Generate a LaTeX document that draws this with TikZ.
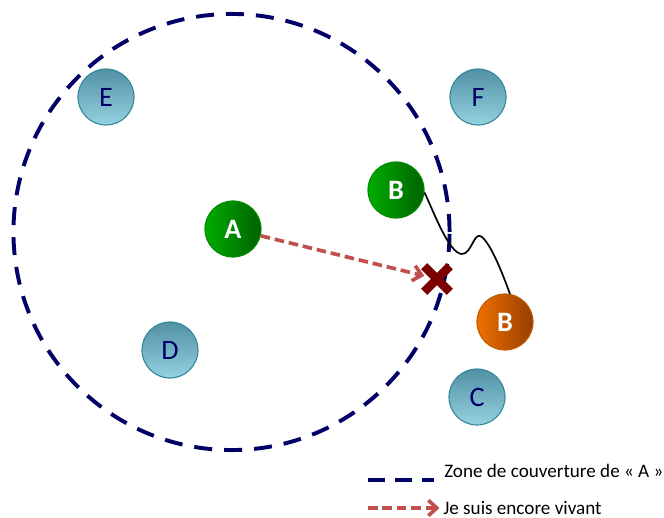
\documentclass[tikz,border=0pt]{standalone}
\usepackage{fontspec}
\setmainfont{Carlito}
\usetikzlibrary{arrows.meta,shapes.misc}

\definecolor{zonenavy}{RGB}{0,0,102}
\definecolor{tealtop}{RGB}{82,145,165}
\definecolor{tealbot}{RGB}{148,210,224}
\definecolor{tealline}{RGB}{55,135,155}
\definecolor{greenleft}{RGB}{0,172,0}
\definecolor{greenright}{RGB}{0,98,0}
\definecolor{orangeleft}{RGB}{238,112,0}
\definecolor{orangeright}{RGB}{150,62,0}
\definecolor{alivered}{RGB}{192,80,77}
\definecolor{crossred}{RGB}{122,0,0}

\begin{document}
\begin{tikzpicture}[
    x=0.025cm, y=-0.025cm,
    every node/.style={font=\fontsize{20}{24}\selectfont},
    station/.style={circle, draw=tealline, thick, top color=tealtop, bottom color=tealbot, minimum size=1.4cm, inner sep=0pt, text=zonenavy},
    mobile/.style={circle, draw=greenleft!80!black, thick, left color=greenleft, right color=greenright, minimum size=1.4cm, inner sep=0pt, text=white, font=\fontsize{20}{24}\selectfont\bfseries},
    moved/.style={mobile, draw=orangeleft!80!black, left color=orangeleft, right color=orangeright},
    zone/.style={circle, draw=zonenavy, line width=2.8pt, dash pattern=on 0.45cm off 0.3cm, minimum size=10.9cm, inner sep=0pt},
    alive/.style={draw=alivered, line width=2.6pt, dash pattern=on 0.24cm off 0.12cm, -{Straight Barb[length=6pt, width=11pt, line width=2.6pt]}},
    lost/.style={cross out, draw=crossred, line width=6.2pt, minimum size=0.42cm, inner sep=0pt},
    legend/.style={font=\fontsize{13.6}{16}\selectfont, anchor=west, inner sep=0pt}
  ]
    \useasboundingbox (0,0) rectangle (664,518);

    % Coverage zone of A
    \node[zone] (zone) at (231.5,232) {};

    % Neighbours
    \node[station] (E) at (106,97) {E};
    \node[station] (F) at (478,97) {F};
    \node[station] (D) at (170,350) {D};
    \node[station] (C) at (477,397) {C};

    % A and B (before / after)
    \node[mobile] (A) at (233,229) {A};
    \node[mobile] (Bg) at (396,190) {B};
    \node[moved] (Bo) at (505,322) {B};

    % Lost message
    \node[lost] (cross) at (437,279) {};
    \draw[alive] (A) -- (cross);

    % Path of B
    \draw[line width=1.2pt] (Bg.-5) .. controls (433,210) and (449,254) .. (462,254)
      .. controls (472,254) and (474,230) .. (482,237)
      .. controls (492,246) and (503,275) .. (Bo.80);

    % Legend
    \coordinate (lz1) at (368,480);
    \coordinate (lz2) at (434,480);
    \node[legend] (lzone) at (444,471) {Zone de couverture de « A »};
    \draw[draw=zonenavy, line width=2.8pt, dash pattern=on 0.43cm off 0.25cm] (lz1) -- (lz2);

    \coordinate (la1) at (368,508);
    \node[legend] (lalive) at (443,508) {Je suis encore vivant};
    \draw[alive, shorten >=2.5pt] (la1) -- (lalive.west);

  \end{tikzpicture}
\end{document}
